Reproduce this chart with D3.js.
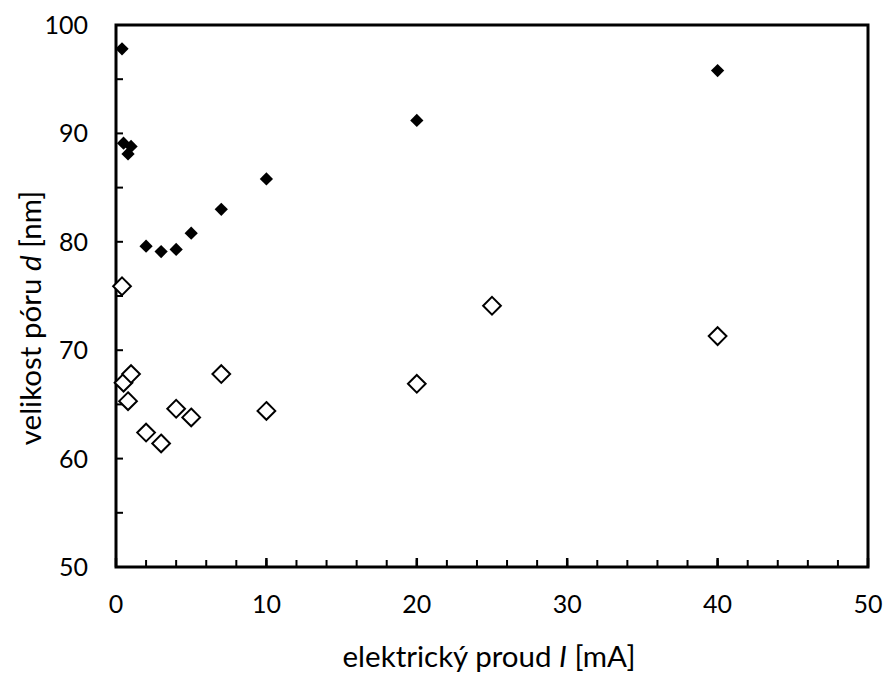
<!DOCTYPE html>
<html>
<head>
<meta charset="utf-8">
<script src="https://cdn.jsdelivr.net/npm/d3@7"></script>
<style>
  body { margin: 0; background: #fff; }
  text { font-family: Lato, "Open Sans", sans-serif; fill: #000; }
</style>
</head>
<body>
<div id="chart"></div>
<script>
// filled diamonds
const currentFilled = [0.4, 0.5, 0.8, 1, 2, 3, 4, 5, 7, 10, 20, 40];
const sizeFilled = [97.8, 89.1, 88.1, 88.8, 79.6, 79.1, 79.3, 80.8, 83.0, 85.8, 91.2, 95.8];
// open diamonds
const currentOpen = [0.4, 0.5, 0.8, 1, 2, 3, 4, 5, 7, 10, 20, 25, 40];
const sizeOpen = [75.9, 67.0, 65.3, 67.8, 62.4, 61.4, 64.6, 63.8, 67.8, 64.4, 66.9, 74.1, 71.3];

const xTicks = [0, 10, 20, 30, 40, 50];
const yTicks = [50, 60, 70, 80, 90, 100];

const W = 887, H = 678;
const margin = {top: 25, right: 19, bottom: 111, left: 116};
const width = W - margin.left - margin.right,
    height = H - margin.top - margin.bottom;

const svg = d3.select("#chart")
  .append("svg")
    .attr("width", W)
    .attr("height", H);

const g = svg.append("g")
    .attr("transform", `translate(${margin.left},${margin.top})`);

const x = d3.scaleLinear().domain([0, 50]).range([0, width]);
const y = d3.scaleLinear().domain([50, 100]).range([height, 0]);

// minor ticks (inside)
g.append("g")
  .selectAll("line")
  .data(d3.range(2, 50, 2))
  .join("line")
    .attr("x1", d => x(d)).attr("x2", d => x(d))
    .attr("y1", height).attr("y2", height - 7)
    .attr("stroke", "#000").attr("stroke-width", 2);

g.append("g")
  .selectAll("line")
  .data(d3.range(55, 100, 5))
  .join("line")
    .attr("x1", 0).attr("x2", 7)
    .attr("y1", d => y(d)).attr("y2", d => y(d))
    .attr("stroke", "#000").attr("stroke-width", 2);

// x major ticks
g.append("g")
  .selectAll("line")
  .data(xTicks)
  .join("line")
    .attr("x1", d => x(d)).attr("x2", d => x(d))
    .attr("y1", height).attr("y2", height - 9)
    .attr("stroke", "#000").attr("stroke-width", 2.5);

// frame
g.append("rect")
  .attr("width", width)
  .attr("height", height)
  .attr("fill", "none")
  .attr("stroke", "#000")
  .attr("stroke-width", 3);

// tick labels
g.append("g")
  .selectAll("text")
  .data(xTicks)
  .join("text")
    .attr("x", d => x(d))
    .attr("y", height + 46)
    .attr("text-anchor", "middle")
    .style("font-size", "25px")
    .text(d => d);

g.append("g")
  .selectAll("text")
  .data(yTicks)
  .join("text")
    .attr("x", -28)
    .attr("y", d => y(d) + 9)
    .attr("text-anchor", "end")
    .style("font-size", "25px")
    .text(d => d);

// open diamonds
const diamondOpen = d3.symbol().type(d3.symbolDiamond2).size(200);
g.append("g")
  .selectAll("path")
  .data(currentOpen)
  .join("path")
    .attr("d", diamondOpen)
    .attr("transform", (d, i) => `translate(${x(d)},${y(sizeOpen[i])})`)
    .attr("fill", "#fff")
    .attr("stroke", "#000")
    .attr("stroke-width", 2);

// filled diamonds
const diamondFilled = d3.symbol().type(d3.symbolDiamond2).size(112);
g.append("g")
  .selectAll("path")
  .data(currentFilled)
  .join("path")
    .attr("d", diamondFilled)
    .attr("transform", (d, i) => `translate(${x(d)},${y(sizeFilled[i])})`)
    .attr("fill", "#000");

// axis titles
const xt = svg.append("text")
  .attr("x", margin.left + width / 2 - 3)
  .attr("y", 667)
  .attr("text-anchor", "middle")
  .style("font-size", "29.5px");
xt.append("tspan").text("elektrický proud ");
xt.append("tspan").style("font-style", "italic").text("I");
xt.append("tspan").text(" [mA]");

const yt = svg.append("text")
  .attr("transform", "translate(41,318) rotate(-90)")
  .attr("text-anchor", "middle")
  .style("font-size", "29.5px");
yt.append("tspan").text("velikost póru ");
yt.append("tspan").style("font-style", "italic").text("d");
yt.append("tspan").text(" [nm]");
</script>
</body>
</html>
